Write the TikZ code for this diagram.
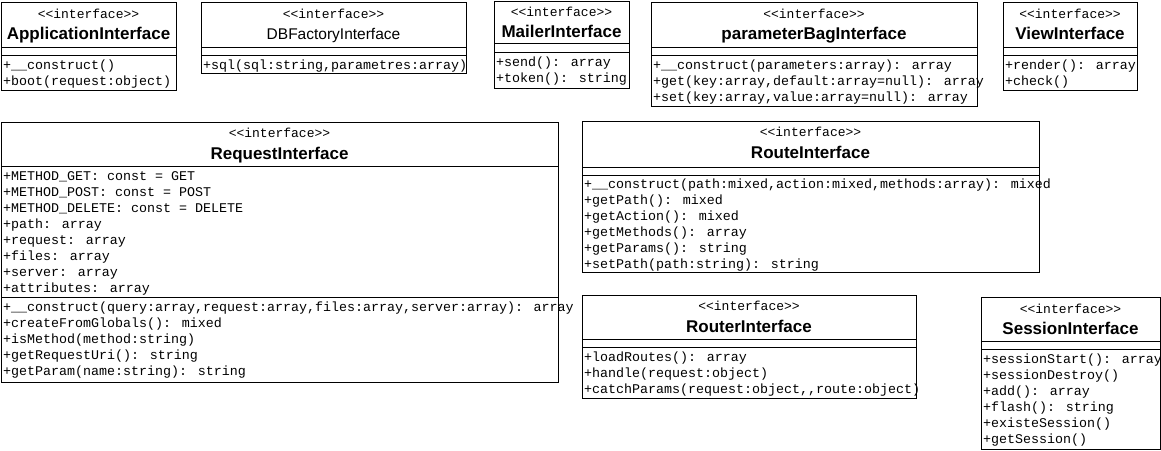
\documentclass[tikz,border=0pt]{standalone}
\usepackage{fontspec}
\setmainfont{Liberation Sans}
\newfontfamily\umlmono{Liberation Mono}
\usetikzlibrary{positioning}

\tikzset{
  box/.style={draw=black, line width=1pt},
  stereo/.style={anchor=base, inner sep=0pt, font=\umlmono\fontsize{13}{15}\selectfont},
  cname/.style={anchor=base, inner sep=0pt, font=\bfseries\fontsize{17}{20}\selectfont},
  cplain/.style={anchor=base, inner sep=0pt, font=\fontsize{15.5}{18}\selectfont},
  member/.style={anchor=base west, inner sep=0pt, font=\umlmono\fontsize{13.33}{16}\selectfont}
}

\begin{document}
\begin{tikzpicture}[x=1pt,y=-1pt]
  \useasboundingbox (0,0) rectangle (1161,450);

  % ApplicationInterface
  \draw[box] (1,2) rectangle (176,90);
  \draw[box] (1,47) -- (176,47) (1,55) -- (176,55);
  \node[stereo] (app-st) at (88.5,18) {<<interface>>};
  \node[cname] (app) at (88.5,39) {ApplicationInterface};
  \foreach \m [count=\i] in {{+\_\_construct()},{+boot(request:object)}}
    \node[member] (app-m\i) at (3,53.5+16*\i) {\m};

  % DBFactoryInterface
  \draw[box] (201,2) rectangle (466,73);
  \draw[box] (201,47) -- (466,47) (201,55) -- (466,55);
  \node[stereo] (db-st) at (333.5,18) {<<interface>>};
  \node[cplain] (db) at (333.5,39) {DBFactoryInterface};
  \node[member] (db-m1) at (203,69.5) {+sql(sql:string,parametres:array)};

  % MailerInterface
  \draw[box] (494,1) rectangle (629,88);
  \draw[box] (494,43) -- (629,43) (494,52) -- (629,52);
  \node[stereo] (mail-st) at (561.5,16) {<<interface>>};
  \node[cname] (mail) at (561.5,37) {MailerInterface};
  \foreach \m [count=\i] in {{+send(): array},{+token(): string}}
    \node[member] (mail-m\i) at (496,50.5+16*\i) {\m};

  % parameterBagInterface
  \draw[box] (651,2) rectangle (977,106);
  \draw[box] (651,47) -- (977,47) (651,55) -- (977,55);
  \node[stereo] (bag-st) at (814,18) {<<interface>>};
  \node[cname] (bag) at (814,39) {parameterBagInterface};
  \foreach \m [count=\i] in {{+\_\_construct(parameters:array): array},
      {+get(key:array,default:array=null): array},
      {+set(key:array,value:array=null): array}}
    \node[member] (bag-m\i) at (653,53.5+16*\i) {\m};

  % ViewInterface
  \draw[box] (1003,2) rectangle (1137,90);
  \draw[box] (1003,47) -- (1137,47) (1003,55) -- (1137,55);
  \node[stereo] (view-st) at (1070,18) {<<interface>>};
  \node[cname] (view) at (1070,39) {ViewInterface};
  \foreach \m [count=\i] in {{+render(): array},{+check()}}
    \node[member] (view-m\i) at (1005,53.5+16*\i) {\m};

  % RequestInterface
  \draw[box] (1,122) rectangle (558,382);
  \draw[box] (1,166) -- (558,166) (1,297) -- (558,297);
  \node[stereo] (req-st) at (279.5,137) {<<interface>>};
  \node[cname] (req) at (279.5,159) {RequestInterface};
  \foreach \m [count=\i] in {{+METHOD\_GET: const = GET},{+METHOD\_POST: const = POST},
      {+METHOD\_DELETE: const = DELETE},{+path: array},{+request: array},
      {+files: array},{+server: array},{+attributes: array}}
    \node[member] (req-a\i) at (3,164.5+16*\i) {\m};
  \foreach \m [count=\i] in {{+\_\_construct(query:array,request:array,files:array,server:array): array},
      {+createFromGlobals(): mixed},{+isMethod(method:string)},
      {+getRequestUri(): string},{+getParam(name:string): string}}
    \node[member] (req-m\i) at (3,295.5+16*\i) {\m};

  % RouteInterface
  \draw[box] (582,121) rectangle (1039,272);
  \draw[box] (582,167) -- (1039,167) (582,175) -- (1039,175);
  \node[stereo] (route-st) at (810.5,136) {<<interface>>};
  \node[cname] (route) at (810.5,158) {RouteInterface};
  \foreach \m [count=\i] in {{+\_\_construct(path:mixed,action:mixed,methods:array): mixed},
      {+getPath(): mixed},{+getAction(): mixed},{+getMethods(): array},
      {+getParams(): string},{+setPath(path:string): string}}
    \node[member] (route-m\i) at (584,172+16*\i) {\m};

  % RouterInterface
  \draw[box] (582,295) rectangle (916,398);
  \draw[box] (582,339) -- (916,339) (582,347) -- (916,347);
  \node[stereo] (router-st) at (749,310) {<<interface>>};
  \node[cname] (router) at (749,332) {RouterInterface};
  \foreach \m [count=\i] in {{+loadRoutes(): array},{+handle(request:object)},
      {+catchParams(request:object,,route:object)}}
    \node[member] (router-m\i) at (584,345+16*\i) {\m};

  % SessionInterface
  \draw[box] (981,297) rectangle (1160,449);
  \draw[box] (981,341) -- (1160,341) (981,349) -- (1160,349);
  \node[stereo] (sess-st) at (1070.5,313) {<<interface>>};
  \node[cname] (sess) at (1070.5,334) {SessionInterface};
  \foreach \m [count=\i] in {{+sessionStart(): array},{+sessionDestroy()},{+add(): array},
      {+flash(): string},{+existeSession()},{+getSession()}}
    \node[member] (sess-m\i) at (983,347+16*\i) {\m};
\end{tikzpicture}
\end{document}
